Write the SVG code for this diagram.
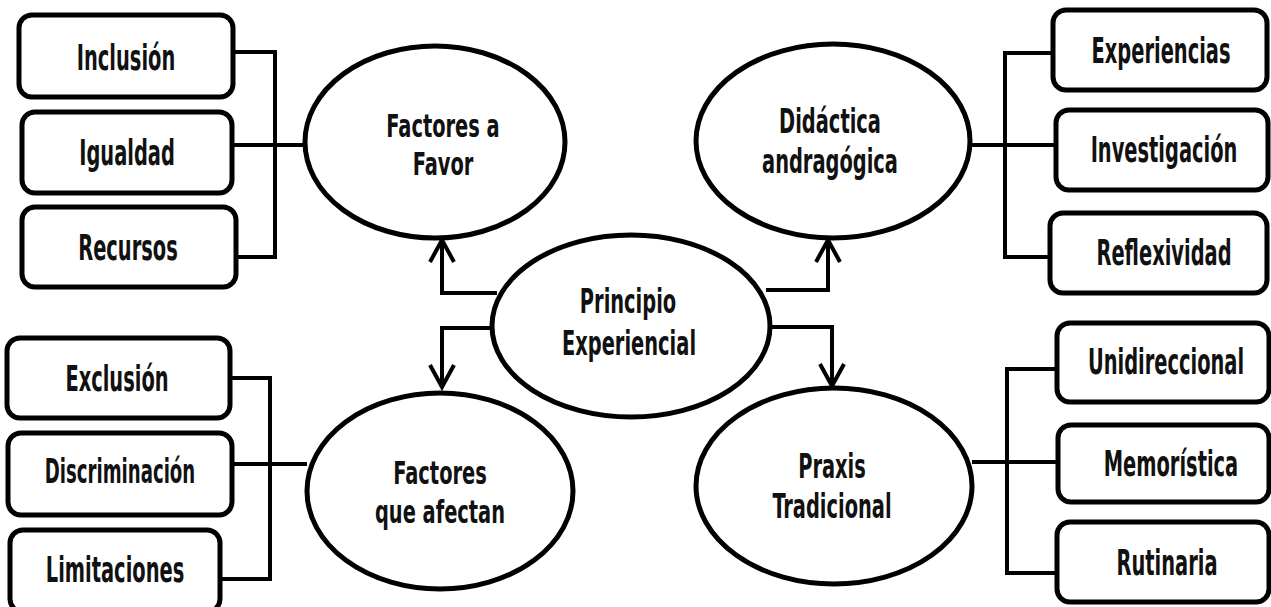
<svg xmlns="http://www.w3.org/2000/svg" width="1271" height="607" viewBox="0 0 1271 607">
<style>
.box{fill:#fff;stroke:#000;stroke-width:5}
.ell{fill:#fff;stroke:#000;stroke-width:5}
.ln{fill:none;stroke:#000;stroke-width:4}
text{font-family:"Liberation Sans Narrow","DejaVu Sans Condensed","Liberation Sans",sans-serif;font-weight:bold;font-size:30px;text-anchor:middle;fill:#111}
</style>
<defs>
<marker id="chev" viewBox="-28 -16 32 32" markerWidth="32" markerHeight="32" refX="0" refY="0" orient="auto" markerUnits="userSpaceOnUse">
<path d="M-22,-12 L0,0 L-22,12" fill="none" stroke="#000" stroke-width="4"/>
</marker>
</defs>
<rect width="1271" height="607" fill="#fff"/>
<g id="connectors">
<path class="ln" d="M233,52 H275 V257 H236"/>
<path class="ln" d="M233,145 H305"/>
<path class="ln" d="M230,378 H270 V579 H220"/>
<path class="ln" d="M232,464 H307"/>
<path class="ln" d="M1053,53 H1005 V257 H1050"/>
<path class="ln" d="M970,145 H1056"/>
<path class="ln" d="M1057,369 H1007 V573 H1057"/>
<path class="ln" d="M972,462 H1058"/>
<path class="ln" d="M497,293 H442 V240" marker-end="url(#chev)"/>
<path class="ln" d="M495,328 H442 V387" marker-end="url(#chev)"/>
<path class="ln" d="M766,290 H828 V240" marker-end="url(#chev)"/>
<path class="ln" d="M770,327 H832 V386" marker-end="url(#chev)"/>
</g>
<g id="inclusion"><rect class="box" x="19" y="15" width="214" height="82" rx="13"/><text transform="translate(126,70) scale(0.72,1.2)">Inclusión</text></g>
<g id="igualdad"><rect class="box" x="22" y="112" width="210" height="81" rx="13"/><text transform="translate(127,165) scale(0.72,1.2)">Igualdad</text></g>
<g id="recursos"><rect class="box" x="22" y="207" width="214" height="80" rx="13"/><text transform="translate(128,260) scale(0.72,1.2)">Recursos</text></g>
<g id="exclusion"><rect class="box" x="7" y="338" width="223" height="80" rx="13"/><text transform="translate(117,391) scale(0.72,1.2)">Exclusión</text></g>
<g id="discriminacion"><rect class="box" x="8" y="433" width="224" height="82" rx="13"/><text transform="translate(120,483) scale(0.72,1.2)" style="font-size:28px">Discriminación</text></g>
<g id="limitaciones"><rect class="box" x="10" y="530" width="210" height="82" rx="13"/><text transform="translate(115,582) scale(0.72,1.2)">Limitaciones</text></g>
<g id="experiencias"><rect class="box" x="1053" y="10" width="214" height="80" rx="13"/><text transform="translate(1161,63) scale(0.72,1.2)">Experiencias</text></g>
<g id="investigacion"><rect class="box" x="1056" y="110" width="212" height="80" rx="13"/><text transform="translate(1164,162) scale(0.72,1.2)">Investigación</text></g>
<g id="reflexividad"><rect class="box" x="1050" y="213" width="217" height="80" rx="13"/><text transform="translate(1164,265) scale(0.72,1.2)">Reflexividad</text></g>
<g id="unidireccional"><rect class="box" x="1057" y="323" width="212" height="79" rx="13"/><text transform="translate(1166,374) scale(0.72,1.2)">Unidireccional</text></g>
<g id="memoristica"><rect class="box" x="1058" y="425" width="211" height="77" rx="13"/><text transform="translate(1171,476) scale(0.72,1.2)">Memorística</text></g>
<g id="rutinaria"><rect class="box" x="1057" y="522" width="212" height="80" rx="13"/><text transform="translate(1167,575) scale(0.72,1.2)">Rutinaria</text></g>
<g id="factores-favor"><ellipse class="ell" cx="435" cy="142" rx="130" ry="96"/><text transform="translate(443,137) scale(0.72,1.08)">Factores a</text><text transform="translate(443,175) scale(0.72,1.08)">Favor</text></g>
<g id="principio"><ellipse class="ell" cx="631" cy="326" rx="139" ry="91"/><text transform="translate(628,313) scale(0.72,1.12)">Principio</text><text transform="translate(629,355) scale(0.72,1.12)">Experiencial</text></g>
<g id="didactica"><ellipse class="ell" cx="833" cy="141" rx="137" ry="97"/><text transform="translate(830,133) scale(0.72,1.1)">Didáctica</text><text transform="translate(830,173) scale(0.72,1.1)">andragógica</text></g>
<g id="factores-afectan"><ellipse class="ell" cx="440" cy="491" rx="133" ry="98"/><text transform="translate(440,484) scale(0.72,1.08)">Factores</text><text transform="translate(440,523) scale(0.72,1.08)">que afectan</text></g>
<g id="praxis"><ellipse class="ell" cx="834" cy="486" rx="138" ry="98"/><text transform="translate(832,478) scale(0.72,1.1)">Praxis</text><text transform="translate(832,518) scale(0.72,1.1)">Tradicional</text></g>
</svg>
